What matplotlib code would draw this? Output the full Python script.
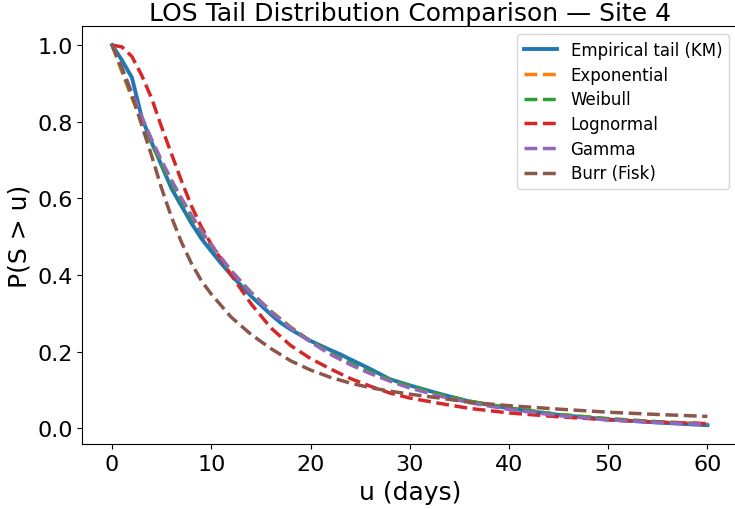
import matplotlib
matplotlib.use('Agg')
from matplotlib import pyplot as plt

# Values
u_km = [0, 1, 2, 3, 4, 5, 6, 7, 8, 9, 10, 11, 12, 14, 16, 17, 18, 20, 22, 23,
        24, 26, 28, 30, 33, 36, 40, 42, 45, 50, 55, 60]
s_km = [1.0, 0.96, 0.915, 0.81, 0.745, 0.685, 0.625, 0.58, 0.535, 0.495, 0.462,
        0.43, 0.40, 0.345, 0.297, 0.275, 0.258, 0.228, 0.204, 0.193, 0.18,
        0.155, 0.128, 0.112, 0.09, 0.07, 0.052, 0.045, 0.035, 0.023, 0.015, 0.008]

u_fit = [0, 1, 2, 3, 4, 5, 6, 7, 8, 9, 10, 12, 14, 16, 18, 20, 22, 24, 26, 28,
         30, 33, 36, 40, 45, 50, 55, 60]
s_expon = [1.0, 0.929, 0.862, 0.801, 0.744, 0.690, 0.641, 0.595, 0.553, 0.513,
           0.477, 0.411, 0.355, 0.306, 0.264, 0.227, 0.196, 0.169, 0.146, 0.126,
           0.108, 0.087, 0.070, 0.052, 0.036, 0.025, 0.017, 0.012]
s_weibull = [1.0, 0.935, 0.866, 0.802, 0.743, 0.688, 0.638, 0.592, 0.549, 0.510,
             0.474, 0.409, 0.353, 0.305, 0.263, 0.227, 0.196, 0.170, 0.147, 0.127,
             0.110, 0.089, 0.071, 0.053, 0.036, 0.025, 0.017, 0.011]
s_lognorm = [1.0, 0.995, 0.97, 0.92, 0.86, 0.785, 0.715, 0.645, 0.58, 0.525,
             0.48, 0.40, 0.325, 0.262, 0.216, 0.182, 0.155, 0.13, 0.11, 0.092,
             0.079, 0.065, 0.052, 0.04, 0.03, 0.022, 0.016, 0.012]
s_gamma = [1.0, 0.94, 0.875, 0.812, 0.753, 0.698, 0.647, 0.600, 0.556, 0.515,
           0.478, 0.411, 0.354, 0.304, 0.262, 0.225, 0.193, 0.166, 0.143, 0.123,
           0.105, 0.084, 0.067, 0.049, 0.033, 0.022, 0.015, 0.010]
s_burr = [1.0, 0.94, 0.87, 0.79, 0.71, 0.625, 0.55, 0.485, 0.43, 0.385, 0.35,
          0.29, 0.245, 0.208, 0.176, 0.152, 0.133, 0.118, 0.106, 0.097, 0.089,
          0.079, 0.068, 0.059, 0.05, 0.042, 0.036, 0.031]

fits = [('Exponential', s_expon), ('Weibull', s_weibull), ('Lognormal', s_lognorm),
        ('Gamma', s_gamma), ('Burr (Fisk)', s_burr)]

fig, ax = plt.subplots(figsize=(7.35, 5.1), dpi=100)
fig.subplots_adjust(left=0.112, right=1.003, top=0.947, bottom=0.127)

ax.plot(u_km, s_km, lw=2.8, label='Empirical tail (KM)')
for name, s in fits:
    ax.plot(u_fit, s, '--', lw=2.5, label=name)

ax.set_title('LOS Tail Distribution Comparison — Site 4', fontsize=18, pad=4)
ax.set_xlabel('u (days)', fontsize=18)
ax.set_ylabel('P(S > u)', fontsize=18)
ax.tick_params(labelsize=16)
ax.legend(loc='upper right', fontsize=12, labelspacing=0.4)

fig.savefig('out.png', dpi=100)
